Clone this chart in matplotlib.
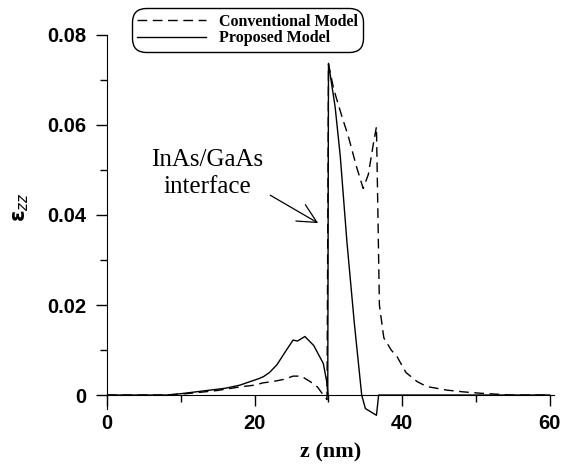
import matplotlib
matplotlib.use("Agg")
import matplotlib.pyplot as plt

# strain profile eps_zz along z (nm)
z_conv = [0, 8, 10, 12, 14.9, 18, 20, 21.1, 22.5, 24, 25.2, 26.3, 27.5, 28.5, 29.3, 29.8,
          30.0, 30.7, 31.8, 32.7, 33.8, 34.7, 35.4, 36.1, 36.5, 36.7, 36.9, 37.5, 38.5,
          39.3, 40.5, 42, 43.3, 46, 48.3, 50.6, 54.7, 60]
eps_conv = [0, 0, 0.0002, 0.0005, 0.001, 0.0018, 0.0022, 0.0027, 0.003, 0.0035, 0.0042,
            0.0042, 0.003, 0.0018, 0.0, -0.001, 0.0735, 0.068, 0.062, 0.0574, 0.0507,
            0.0459, 0.049, 0.056, 0.0596, 0.040, 0.020, 0.0127, 0.010, 0.0085, 0.005,
            0.003, 0.0019, 0.0011, 0.0007, 0.0004, 0.0, 0]

z_prop = [0, 8, 10, 12, 14, 16, 18, 19.4, 20.5, 21.2, 22, 23, 24.3, 25.2, 25.8, 26.8, 28,
          29.3, 29.8, 29.9, 30.0, 30.9, 31.6, 32.5, 33.5, 34.5, 35.0, 36.5, 36.8, 40, 60]
eps_prop = [0, 0, 0.0003, 0.0007, 0.0011, 0.0015, 0.0022, 0.003, 0.0036, 0.0041, 0.005,
            0.0067, 0.010, 0.0122, 0.012, 0.013, 0.011, 0.007, 0.0026, 0.0, 0.0737, 0.064,
            0.053, 0.034, 0.016, 0.0, -0.003, -0.0045, 0.0, 0, 0]

xticks = [0, 20, 40, 60]
yticks = [0, 0.02, 0.04, 0.06, 0.08]
ytick_labels = ["0", "0.02", "0.04", "0.06", "0.08"]

fig = plt.figure(figsize=(5.73, 4.66), dpi=100)
ax = fig.add_axes([0.187, 0.104, 0.779, 0.821])

ax.plot(z_conv, eps_conv, color="black", lw=1.0, ls=(0, (7, 4)), label="Conventional Model")
ax.plot(z_prop, eps_prop, color="black", lw=1.0, label="Proposed Model")

ax.set_xlim(0, 60.5)
ax.set_ylim(-0.005, 0.08)

# axis cross at the origin, no box
ax.spines["top"].set_visible(False)
ax.spines["right"].set_visible(False)
ax.spines["bottom"].set_position(("data", 0))
ax.spines["left"].set_bounds(-0.003, 0.08)
ax.spines["bottom"].set_bounds(0, 60.5)

ax.set_xticks(xticks)
ax.set_xticks([10, 30, 50], minor=True)
ax.set_yticks(yticks)
ax.set_yticklabels(ytick_labels)
ax.set_yticks([0.01, 0.03, 0.05, 0.07], minor=True)
ax.tick_params(which="both", direction="out", width=1.0)
ax.tick_params(which="major", length=8)
ax.tick_params(which="minor", length=5)
ax.tick_params(axis="x", pad=6)
ax.tick_params(axis="y", pad=7)
for lab in ax.get_xticklabels() + ax.get_yticklabels():
    lab.set_fontfamily("Liberation Sans")
    lab.set_fontweight("bold")
    lab.set_fontsize(14.5)

ax.set_xlabel("z (nm)", family="Liberation Serif", weight="bold", fontsize=16)
ax.xaxis.set_label_coords(0.5, -0.065)
ax.set_ylabel(r"ε$_{zz}$", family="DejaVu Sans", weight="bold", fontsize=15)
ax.yaxis.set_label_coords(-0.17, 0.55)

# interface label and its arrow
ax.text(13.55, 0.0492, "InAs/GaAs\ninterface", family="Liberation Serif", fontsize=18,
        ha="center", va="center", linespacing=1.3)
ax.annotate("", xy=(28.6, 0.0382), xytext=(22.1, 0.0444),
            arrowprops=dict(arrowstyle="->", color="black", lw=0.9,
                            mutation_scale=34, shrinkA=0, shrinkB=0))

leg = fig.legend(loc="upper center", bbox_to_anchor=(0.432, 1.0),
                 prop={"family": "Liberation Serif", "weight": "bold", "size": 11.5},
                 handlelength=4.3, handletextpad=0.8, labelspacing=0.05,
                 borderpad=0.35, fancybox=True, frameon=True)
leg.get_frame().set_edgecolor("black")
leg.get_frame().set_linewidth(1.0)
leg.get_frame().set_alpha(1)
leg.get_frame().set_boxstyle("round", pad=0, rounding_size=0.9)

fig.savefig("out.png", dpi=100)
